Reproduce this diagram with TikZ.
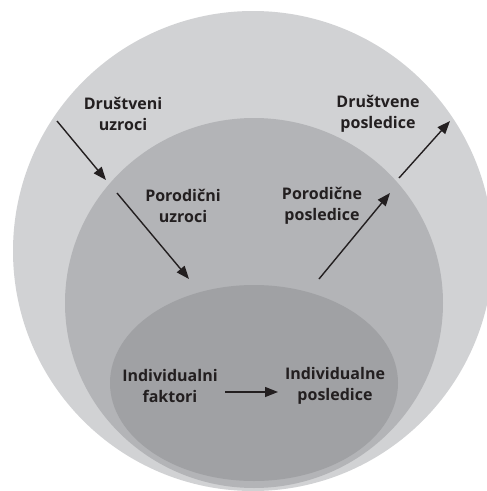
\documentclass[tikz,border=0pt]{standalone}
\usepackage{fontspec}
\setmainfont{Open Sans}
\usetikzlibrary{arrows.meta}
\definecolor{outerc}{HTML}{D1D2D4}
\definecolor{midc}{HTML}{B3B4B7}
\definecolor{innerc}{HTML}{A0A1A4}
\definecolor{ink}{HTML}{231F20}
\tikzset{
  lbl/.style={text=ink,font=\fontsize{16}{21}\selectfont\bfseries,align=center,inner sep=0pt},
  arr/.style={draw=ink,line width=1.4pt,-{Triangle[length=13pt,width=10pt]}}
}
\begin{document}
\begin{tikzpicture}[x=1pt,y=-1pt]
\useasboundingbox (0,0) rectangle (487,491);
\clip (0,0) rectangle (487,491);
\fill[white] (0,0) rectangle (487,491);
\fill[outerc] (253,251) circle (240);
\fill[midc] (254,303) ellipse [x radius=189, y radius=185];
\fill[innerc] (254,383) ellipse [x radius=144, y radius=98];
\node[lbl] (ds) at (123,114) {Društveni\\uzroci};
\node[lbl] (dp) at (378,114) {Društvene\\posledice};
\node[lbl] (pu) at (183,206) {Porodični\\uzroci};
\node[lbl] (pp) at (322,206) {Porodične\\posledice};
\node[lbl] (if) at (170,386) {Individualni\\faktori};
\node[lbl] (ip) at (335,386) {Individualne\\posledice};
\coordinate (a1s) at (57,121);
\coordinate (a1e) at (106,180);
\coordinate (a2s) at (117,193);
\coordinate (a2e) at (189,279);
\coordinate (a3s) at (319,279);
\coordinate (a3e) at (390,193);
\coordinate (a4s) at (399,178);
\coordinate (a4e) at (450,121);
\coordinate (a5s) at (225,392);
\coordinate (a5e) at (278,392);
\draw[arr] (a1s) -- (a1e);
\draw[arr] (a2s) -- (a2e);
\draw[arr] (a3s) -- (a3e);
\draw[arr] (a4s) -- (a4e);
\draw[arr] (a5s) -- (a5e);
\end{tikzpicture}
\end{document}
